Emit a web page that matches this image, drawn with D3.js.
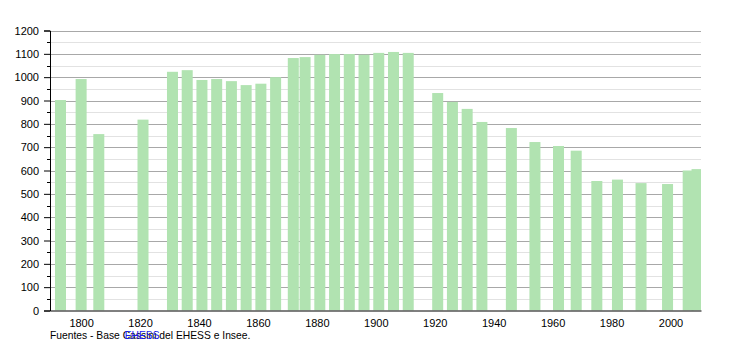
<!DOCTYPE html>
<html>
<head>
<meta charset="utf-8">
<script src="https://cdn.jsdelivr.net/npm/d3@7"></script>
<style>
  body { margin: 0; background: #fff; }
  svg text { font-family: "Liberation Sans", Arial, sans-serif; }
</style>
</head>
<body>
<div id="chart"></div>
<script>
// census years and population
const years = [1793, 1800, 1806, 1821, 1831, 1836, 1841, 1846, 1851, 1856, 1861, 1866,
    1872, 1876, 1881, 1886, 1891, 1896, 1901, 1906, 1911, 1921, 1926, 1931, 1936,
    1946, 1954, 1962, 1968, 1975, 1982, 1990, 1999, 2006, 2009];
const population = [902, 992, 756, 818, 1023, 1030, 988, 992, 983, 966, 972, 1000,
    1082, 1086, 1096, 1099, 1099, 1096, 1104, 1108, 1104, 932, 894, 864, 808,
    782, 722, 705, 685, 555, 561, 546, 542, 600, 606];
const yTicks = [0, 100, 200, 300, 400, 500, 600, 700, 800, 900, 1000, 1100, 1200];
const xTicks = [1800, 1820, 1840, 1860, 1880, 1900, 1920, 1940, 1960, 1980, 2000];

const width = 750, height = 340;
const plotLeft = 50, plotRight = 701, plotTop = 30.5, plotBottom = 310.5;

const svg = d3.select('#chart').append('svg')
    .attr('width', width)
    .attr('height', height);

const x = d3.scaleLinear().domain([1789.44, 2010.35]).range([plotLeft, plotRight]);
const y = d3.scaleLinear().domain([0, 1200]).range([plotBottom, plotTop]);
const barW = 11;

svg.append('defs').append('clipPath').attr('id', 'plot')
    .append('rect')
    .attr('x', plotLeft).attr('y', 0)
    .attr('width', plotRight - plotLeft).attr('height', plotBottom);

// grid: light minor lines every 50, grey lines every 100
const minor = d3.range(50, 1200, 100);
svg.append('g').selectAll('line')
    .data(minor)
    .enter().append('line')
    .attr('x1', plotLeft).attr('x2', plotRight)
    .attr('y1', d => Math.round(y(d)) + 0.5)
    .attr('y2', d => Math.round(y(d)) + 0.5)
    .attr('stroke', '#e2e2e2');

svg.append('g').selectAll('line')
    .data(yTicks.slice(1))
    .enter().append('line')
    .attr('x1', plotLeft).attr('x2', plotRight)
    .attr('y1', d => Math.round(y(d)) + 0.5)
    .attr('y2', d => Math.round(y(d)) + 0.5)
    .attr('stroke', '#a8a8a8');

const data = years.map((yr, i) => ({ year: yr, value: population[i] }));

svg.append('g')
    .attr('clip-path', 'url(#plot)')
    .selectAll('rect')
    .data(data)
    .enter().append('rect')
    .attr('x', d => x(d.year) - barW / 2)
    .attr('y', d => y(d.value))
    .attr('width', barW)
    .attr('height', d => plotBottom - y(d.value))
    .attr('fill', '#b1e3b1');

// y axis
const yAxis = d3.axisLeft(y)
    .tickValues(yTicks)
    .tickFormat(d3.format('d'))
    .tickSize(6)
    .tickPadding(5);
const ya = svg.append('g')
    .attr('transform', `translate(${plotLeft},0)`)
    .call(yAxis);
ya.select('.domain').attr('stroke', '#000');
ya.selectAll('.tick line').attr('stroke', '#000');
ya.selectAll('.tick text')
    .attr('font-size', 11)
    .attr('fill', '#000')
    .style('font-family', '"Liberation Sans", Arial, sans-serif');

// minor y ticks
svg.append('g').selectAll('line')
    .data(minor)
    .enter().append('line')
    .attr('x1', plotLeft - 3).attr('x2', plotLeft)
    .attr('y1', d => Math.round(y(d)) + 0.5)
    .attr('y2', d => Math.round(y(d)) + 0.5)
    .attr('stroke', '#000');

// x axis
const xAxis = d3.axisBottom(x)
    .tickValues(xTicks)
    .tickFormat(d3.format('d'))
    .tickSize(0)
    .tickPadding(9);
const xa = svg.append('g')
    .attr('transform', `translate(0,${plotBottom})`)
    .call(xAxis);
xa.select('.domain').attr('stroke', '#000');
xa.selectAll('.tick text')
    .attr('font-size', 11)
    .attr('fill', '#000')
    .style('font-family', '"Liberation Sans", Arial, sans-serif');

// footer, with the link text drawn over "Cassini"
const foot = svg.append('text')
    .attr('x', 50).attr('y', 339)
    .attr('font-size', 10.3)
    .attr('fill', '#000');
const pre = foot.append('tspan').text('Fuentes - Base ');
foot.append('tspan').text('Cassini del EHESS e Insee.');
const offset = pre.node().getComputedTextLength();
svg.append('text')
    .attr('x', 50 + offset + 2).attr('y', 339)
    .attr('font-size', 10.3)
    .attr('fill', '#1a1aee')
    .text('EHESS');
</script>
</body>
</html>
